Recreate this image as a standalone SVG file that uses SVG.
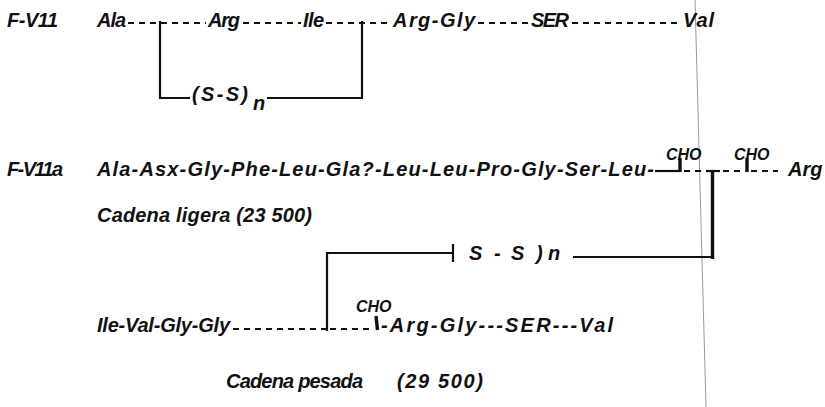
<svg xmlns="http://www.w3.org/2000/svg" width="825" height="407" viewBox="0 0 825 407">
  <style>
    .t { font-family: "Liberation Sans", Arial, sans-serif; font-style: italic; font-weight: bold; font-size: 20px; fill: #111; }
    .cho { font-size: 16px; }
    .ln { stroke: #111; stroke-width: 2.2; fill: none; }
    .thick { stroke: #111; stroke-width: 3.4; fill: none; }
    .dash { stroke: #111; stroke-width: 2; stroke-dasharray: 6 5; fill: none; }
    .fold { stroke: #9a9a9a; stroke-width: 1; fill: none; }
  </style>
  <rect width="825" height="407" fill="#fff"/>

  <!-- page fold -->
  <line class="fold" x1="695" y1="0" x2="706" y2="407"/>

  <!-- F-V11 chain -->
  <g id="fv11">
    <text class="t" x="7" y="27" textLength="51" lengthAdjust="spacing">F-V11</text>
    <text class="t" x="97" y="27" textLength="29" lengthAdjust="spacing">Ala</text>
    <text class="t" x="208" y="27" textLength="32" lengthAdjust="spacing">Arg</text>
    <text class="t" x="303" y="27" textLength="21" lengthAdjust="spacing">Ile</text>
    <text class="t" x="393" y="27" textLength="82" lengthAdjust="spacing">Arg-Gly</text>
    <text class="t" x="531" y="27" textLength="38" lengthAdjust="spacing">SER</text>
    <text class="t" x="683" y="27" textLength="31" lengthAdjust="spacing">Val</text>
  </g>

  <!-- F-V11 disulfide bridge label -->
  <g id="fv11-ss">
    <text class="t" x="192" y="101" textLength="56" lengthAdjust="spacing">(S-S)</text>
    <text class="t" x="253" y="110">n</text>
  </g>

  <!-- F-V11a light chain -->
  <g id="fv11a-light">
    <text class="t" x="7" y="176" textLength="56" lengthAdjust="spacing">F-V11a</text>
    <text class="t" x="97" y="176" textLength="557" lengthAdjust="spacing">Ala-Asx-Gly-Phe-Leu-Gla?-Leu-Leu-Pro-Gly-Ser-Leu-</text>
    <text class="t cho" x="666" y="160">CHO</text>
    <text class="t cho" x="734" y="160">CHO</text>
    <text class="t" x="788" y="176">Arg</text>
    <text class="t" x="97" y="222" textLength="215" lengthAdjust="spacing">Cadena ligera (23 500)</text>
  </g>

  <!-- interchain disulfide label -->
  <g id="fv11a-ss">
    <text class="t"><tspan x="469" y="260">S</tspan><tspan x="494" y="260">-</tspan><tspan x="511" y="260">S</tspan><tspan x="536" y="260">)</tspan><tspan x="548" y="260">n</tspan></text>
  </g>

  <!-- F-V11a heavy chain -->
  <g id="fv11a-heavy">
    <text class="t" x="97" y="332" textLength="133" lengthAdjust="spacing">Ile-Val-Gly-Gly</text>
    <text class="t cho" x="356" y="312">CHO</text>
    <text class="t" x="381" y="332" textLength="232" lengthAdjust="spacing">-Arg-Gly---SER---Val</text>
    <text class="t" x="226" y="388" textLength="137" lengthAdjust="spacing">Cadena pesada</text>
    <text class="t" x="397" y="388" textLength="86" lengthAdjust="spacing">(29 500)</text>
  </g>

  <!-- bonds, bridges and attachment ticks -->
  <g id="connectors">
    <!-- F-V11 backbone -->
    <path class="dash" d="M128,23 H206 M243,23 H301 M326,23 H391 M478,23 H529 M572,23 H681"/>
    <!-- F-V11 bridge -->
    <path class="ln" d="M160,21 V98 H190"/>
    <path class="ln" d="M267,98 H362 V21"/>

    <!-- light chain tail -->
    <path class="ln" d="M655,171 H680"/>
    <path class="dash" d="M684,171 H702"/>
    <path class="ln" d="M706,171 H720"/>
    <path class="dash" d="M723,171 H745"/>
    <path class="dash" d="M751,171 H778"/>
    <path class="thick" d="M680,158 V172"/>
    <path class="thick" d="M747,158 V172"/>

    <!-- interchain bridge -->
    <path class="thick" d="M712.5,170 V259"/>
    <path class="ln" d="M573,257 H714"/>
    <path class="ln" d="M327,331 V253 H453"/>
    <path class="ln" d="M453,244 V262"/>

    <!-- heavy chain backbone -->
    <path class="dash" d="M233,329 H326 M330,329 H373"/>
    <path class="thick" d="M376,316 L377.5,330"/>
  </g>
</svg>
